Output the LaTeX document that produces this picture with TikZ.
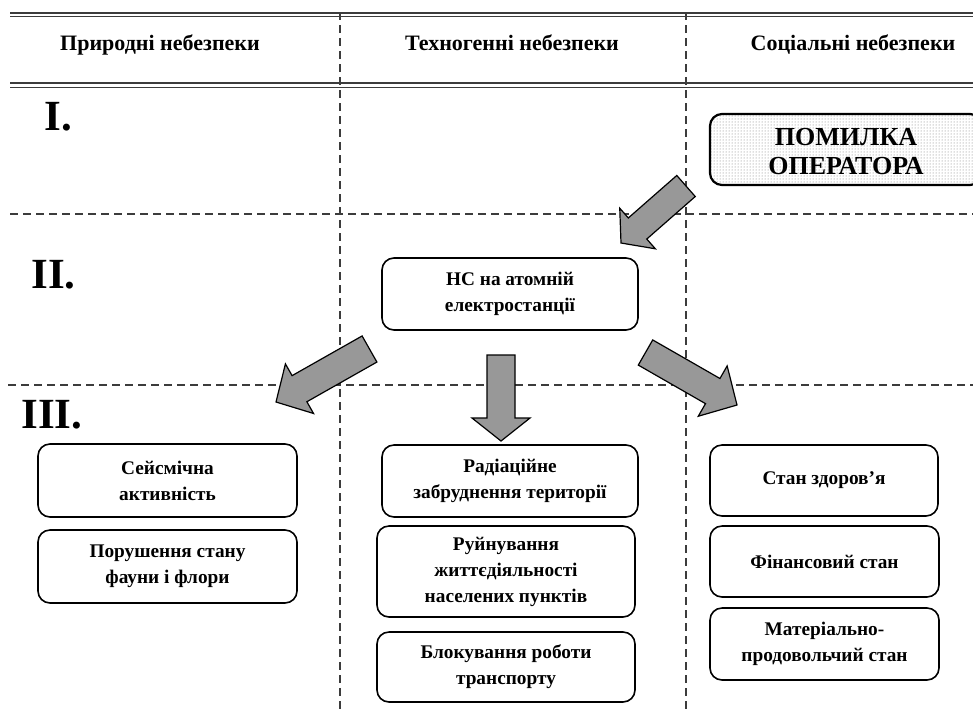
\documentclass[tikz,border=0pt]{standalone}
\usepackage{fontspec}
\setmainfont{Liberation Serif}
\usetikzlibrary{calc,patterns}
\definecolor{arrowgray}{RGB}{152,152,152}
\definecolor{linegray}{RGB}{60,60,60}
\tikzset{
  gridline/.style={draw=linegray, line width=1.1pt, dash pattern=on 8pt off 5pt},
  box/.style={draw=black, line width=1.6pt, rounded corners=12pt, fill=white,
    align=center, inner sep=0pt, font=\fontsize{19.3}{26}\selectfont\bfseries},
  opbox/.style={draw=black, line width=2.2pt, rounded corners=12pt,
    pattern=dots, pattern color=black!55, inner sep=0pt},
  optext/.style={align=center, font=\fontsize{26}{29}\selectfont\bfseries},
  barrow/.style={draw=black, line width=1.2pt, fill=arrowgray, line join=miter},
  headtext/.style={font=\fontsize{22}{25}\selectfont\bfseries, anchor=base},
  roman/.style={font=\fontsize{43}{46}\selectfont\bfseries, anchor=base west},
}
% #1 tail, #2 tip, #3 shaft half width, #4 head half width, #5 head length
\newcommand\blockarrow[5]{%
  \coordinate (#1-b) at ($(#2)!#5!(#1)$);
  \draw[barrow] ($(#1)!#3!90:(#2)$) -- ($(#1-b)!#3!90:(#2)$) -- ($(#1-b)!#4!90:(#2)$)
    -- (#2) -- ($(#1-b)!#4!-90:(#2)$) -- ($(#1-b)!#3!-90:(#2)$) -- ($(#1)!#3!-90:(#2)$) -- cycle;
}
\begin{document}
\begin{tikzpicture}[x=1pt,y=-1pt]
\useasboundingbox (0,0) rectangle (973,713);
\clip (0,0) rectangle (973,713);

% header double lines
\draw[linegray, line width=2pt] (10,12.8) -- (973,12.8);
\draw[linegray, line width=1pt] (10,16.2) -- (973,16.2);
\draw[linegray, line width=2pt] (10,83.3) -- (973,83.3);
\draw[linegray, line width=1pt] (10,87.2) -- (973,87.2);

% grid dashed lines
\draw[gridline] (340,12) -- (340,713);
\draw[gridline] (686,12) -- (686,713);
\draw[gridline] (10,214) -- (973,214);
\draw[gridline] (8,385) -- (973,385);

% header texts
\node[headtext] (h1) at (160,50) {Природні небезпеки};
\node[headtext] (h2) at (512,50) {Техногенні небезпеки};
\node[headtext] (h3) at (853,50) {Соціальні небезпеки};

% level labels
\node[roman] (l1) at (41,130) {I.};
\node[roman] (l2) at (28,288) {II.};
\node[roman] (l3) at (18,428) {III.};

% operator error box
\node[opbox, minimum width=272pt, minimum height=71pt] (op) at (846,149.5) {};
\node[optext] (opt) at (846,151.5) {ПОМИЛКА\\ОПЕРАТОРА};

% level II
\node[box, minimum width=256pt, minimum height=72pt] (ns) at (510,294) {НС на атомній\\електростанції};

% level III
\node[box, minimum width=259pt, minimum height=73pt] (seis) at (167.5,480.5) {Сейсмічна\\активність};
\node[box, minimum width=259pt, minimum height=73pt] (fauna) at (167.5,566.5) {Порушення стану\\фауни і флори};
\node[box, minimum width=256pt, minimum height=72pt] (rad) at (510,481) {Радіаційне\\забруднення території};
\node[box, minimum width=258pt, minimum height=91pt] (ruin) at (506,571.5) {Руйнування\\життєдіяльності\\населених пунктів};
\node[box, minimum width=258pt, minimum height=70pt] (block) at (506,667) {Блокування роботи\\транспорту};
\node[box, minimum width=228pt, minimum height=71pt] (health) at (824,480.5) {Стан здоров’я};
\node[box, minimum width=229pt, minimum height=71pt] (fin) at (824.5,561.5) {Фінансовий стан};
\node[box, minimum width=229pt, minimum height=72pt] (mat) at (824.5,644) {Матеріально-\\продовольчий стан};

% block arrows
\coordinate (a1t) at (686,186); \coordinate (a1p) at (621,243);
\coordinate (a2t) at (369.5,349); \coordinate (a2p) at (276,402);
\coordinate (a3t) at (501,355); \coordinate (a3p) at (501,441);
\coordinate (a4t) at (645.5,352.5); \coordinate (a4p) at (737,405);
\blockarrow{a1t}{a1p}{14pt}{27pt}{22pt}
\blockarrow{a2t}{a2p}{15pt}{28.5pt}{27pt}
\blockarrow{a3t}{a3p}{14pt}{29pt}{23pt}
\blockarrow{a4t}{a4p}{14.5pt}{29pt}{28pt}
\end{tikzpicture}
\end{document}
